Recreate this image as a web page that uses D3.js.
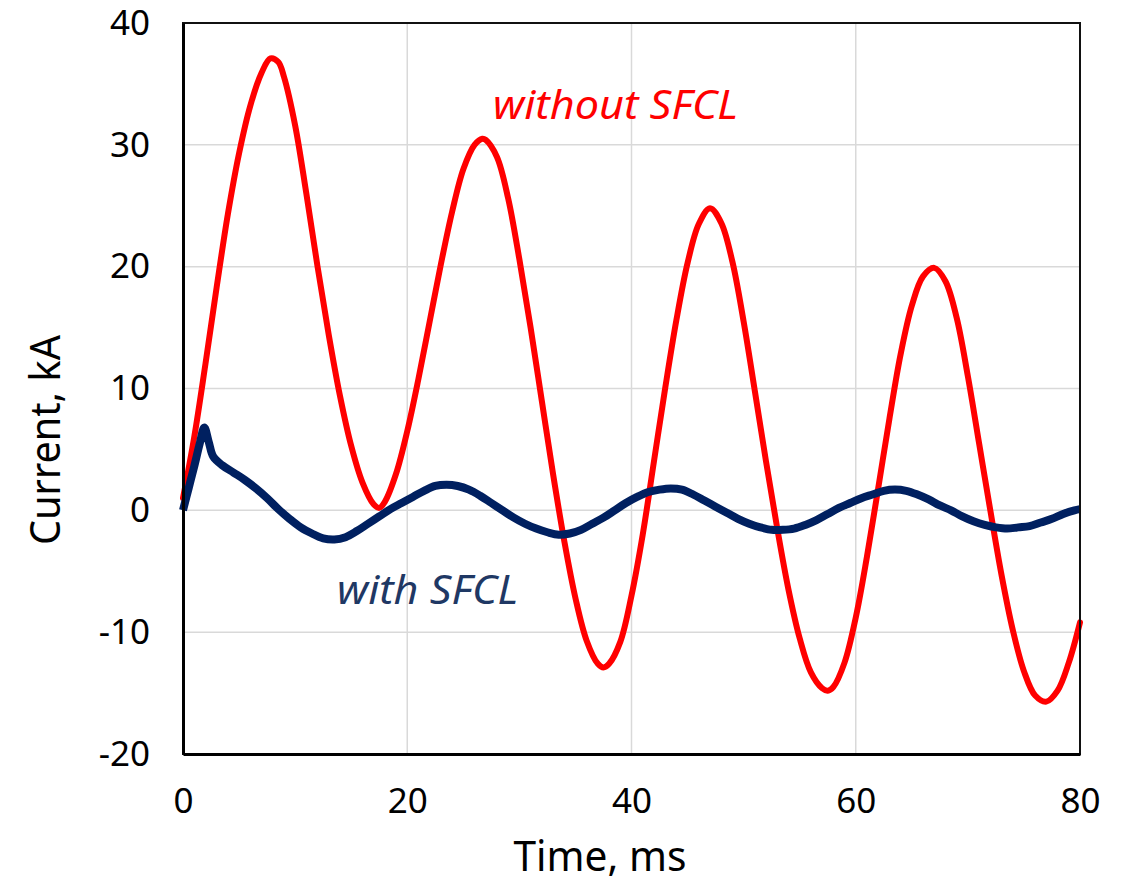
<!DOCTYPE html>
<html>
<head>
<meta charset="utf-8">
<script src="https://cdn.jsdelivr.net/npm/d3@7"></script>
<style>
  html, body { margin: 0; padding: 0; background: #fff; }
  svg { display: block; }
</style>
</head>
<body>
<svg id="chart" width="1123" height="883"></svg>
<script>
// ---- data ----
const xTicks = [0, 20, 40, 60, 80];
const yTicks = [-20, -10, 0, 10, 20, 30, 40];

const timeWithout = [0,1,2,3,4,5,6,7,7.8,8.5,9,10,11,12,13,14,15,16,17,17.5,18,19,20,21,22,23,24,25,26,26.7,27,28,29,30,31,32,33,34,35,36,37,37.5,38,39,40,41,42,43,44,45,46,47,48,49,50,51,52,53,54,55,56,57,57.5,58,59,60,61,62,63,64,65,66,67,68,69,70,71,72,73,74,75,76,77,78,79,80];
const currentWithout = [1.0,6.0,12.0,18.3,24.3,29.3,33.2,35.9,37.1,36.8,35.6,31.6,26.0,20.0,14.4,9.4,5.3,2.3,0.5,0.2,0.7,3.0,6.5,10.8,15.5,20.2,24.5,28.0,30.0,30.5,30.4,29.0,25.6,20.6,15.0,9.0,3.0,-2.5,-7.2,-10.7,-12.6,-12.9,-12.6,-10.8,-7.0,-2.0,4.0,10.0,15.6,20.3,23.5,24.8,23.6,20.4,15.5,9.8,4.0,-1.5,-6.5,-10.5,-13.3,-14.6,-14.8,-14.5,-12.5,-8.8,-3.8,1.8,7.5,12.8,16.8,19.2,19.9,18.8,15.8,11.0,5.5,0.0,-5.3,-9.8,-13.2,-15.2,-15.7,-14.8,-12.5,-9.2];

const timeWith = [0,0.5,1,1.5,1.9,2.3,2.7,3.5,4.5,5.5,6.5,7.5,8.5,9.5,10.5,11.5,12.5,13.5,14.5,15.5,16.5,17.5,18.5,19.5,20.5,21.5,22.5,23.5,24.5,25.5,26.5,27.5,28.5,29.5,30.5,31.5,32.5,33.5,34.5,35.5,36.5,37.5,38.5,39.5,40.5,41.5,42.5,43.5,44.5,45.5,46.5,47.5,48.5,49.5,50.5,51.5,52.5,53.5,54.5,55.5,56.5,57.5,58.5,59.5,60.5,61.5,62.5,63.5,64.5,65.5,66.5,67.5,68.5,69.5,70.5,71.5,72.5,73.5,74.5,75.5,76.5,77.5,78.5,79.5,80];
const currentWith = [0,1.8,3.6,5.5,6.8,5.6,4.4,3.7,3.1,2.5,1.8,1.0,0.1,-0.7,-1.4,-1.9,-2.3,-2.4,-2.2,-1.7,-1.1,-0.5,0.1,0.6,1.1,1.6,2.0,2.1,2.0,1.7,1.2,0.6,0.0,-0.6,-1.1,-1.5,-1.8,-2.0,-1.9,-1.6,-1.1,-0.6,0.0,0.6,1.1,1.5,1.7,1.8,1.7,1.3,0.8,0.3,-0.2,-0.7,-1.1,-1.4,-1.6,-1.6,-1.5,-1.2,-0.8,-0.3,0.2,0.6,1.0,1.3,1.6,1.7,1.6,1.3,0.9,0.4,0.0,-0.5,-0.9,-1.2,-1.4,-1.5,-1.4,-1.3,-1.0,-0.7,-0.3,0.0,0.1];

const seriesLabels = ["without SFCL", "with SFCL"];
const xTitle = "Time, ms";
const yTitle = "Current, kA";

// ---- layout ----
const svg = d3.select("#chart");
const mLeft = 183, mRight = 1080, mTop = 23, mBottom = 754;

const x = d3.scaleLinear().domain([0, 80]).range([mLeft, mRight]);
const y = d3.scaleLinear().domain([-20, 40]).range([mBottom, mTop]);

// gridlines
svg.append("g").selectAll("line")
  .data(yTicks.filter(d => d > -20 && d < 40))
  .join("line")
  .attr("x1", mLeft).attr("x2", mRight)
  .attr("y1", d => y(d)).attr("y2", d => y(d))
  .attr("stroke", "#d9d9d9").attr("stroke-width", 1.5);
svg.append("g").selectAll("line")
  .data(xTicks.filter(d => d > 0 && d < 80))
  .join("line")
  .attr("y1", mTop).attr("y2", mBottom)
  .attr("x1", d => x(d)).attr("x2", d => x(d))
  .attr("stroke", "#d9d9d9").attr("stroke-width", 1.5);

// series
const pts = (ts, vs) => ts.map((t, i) => [t, vs[i]]);
const line = d3.line().x(d => x(d[0])).y(d => y(d[1])).curve(d3.curveCatmullRom.alpha(0.5));

svg.append("path")
  .datum(pts(timeWithout, currentWithout))
  .attr("d", line)
  .attr("fill", "none").attr("stroke", "#ff0000")
  .attr("stroke-width", 6).attr("stroke-linejoin", "round").attr("stroke-linecap", "round");

svg.append("path")
  .datum(pts(timeWith, currentWith))
  .attr("d", line)
  .attr("fill", "none").attr("stroke", "#002060")
  .attr("stroke-width", 8).attr("stroke-linejoin", "round");

// frame
svg.append("rect")
  .attr("x", mLeft).attr("y", mTop)
  .attr("width", mRight - mLeft).attr("height", mBottom - mTop)
  .attr("fill", "none").attr("stroke", "#111").attr("stroke-width", 2);

// axes (labels only)
const font = "'Noto Sans', 'Open Sans', sans-serif";
const xAxis = d3.axisBottom(x).tickValues(xTicks).tickSize(0).tickPadding(34);
const gx = svg.append("g").attr("transform", `translate(0,${mBottom})`).call(xAxis);
gx.select(".domain").attr("stroke", "#000").attr("stroke-width", 3);
gx.selectAll("text").attr("font-family", font).attr("font-size", 35).attr("fill", "#000");

const yAxis = d3.axisLeft(y).tickValues(yTicks).tickSize(0).tickPadding(33);
const gy = svg.append("g").attr("transform", `translate(${mLeft},0)`).call(yAxis);
gy.select(".domain").attr("stroke", "#000").attr("stroke-width", 3);
gy.selectAll("text").attr("font-family", font).attr("font-size", 35).attr("fill", "#000")
  .text(d => d < 0 ? "-" + Math.abs(d) : d);

// titles
svg.append("text")
  .attr("x", 600).attr("y", 871)
  .attr("text-anchor", "middle")
  .attr("font-family", font).attr("font-size", 41).attr("fill", "#000")
  .attr("textLength", 173).attr("lengthAdjust", "spacingAndGlyphs")
  .text(xTitle);
svg.append("text")
  .attr("transform", `translate(60,440) rotate(-90)`)
  .attr("text-anchor", "middle")
  .attr("font-family", font).attr("font-size", 41).attr("fill", "#000")
  .attr("textLength", 210).attr("lengthAdjust", "spacingAndGlyphs")
  .text(yTitle);

// series labels
svg.append("text")
  .attr("x", 493).attr("y", 119)
  .attr("font-family", font).attr("font-style", "italic").attr("font-size", 40)
  .attr("fill", "#ff0000")
  .attr("textLength", 245).attr("lengthAdjust", "spacingAndGlyphs")
  .text(seriesLabels[0]);
svg.append("text")
  .attr("x", 337).attr("y", 604)
  .attr("font-family", font).attr("font-style", "italic").attr("font-size", 40)
  .attr("fill", "#1f3864")
  .attr("textLength", 181).attr("lengthAdjust", "spacingAndGlyphs")
  .text(seriesLabels[1]);
</script>
</body>
</html>
